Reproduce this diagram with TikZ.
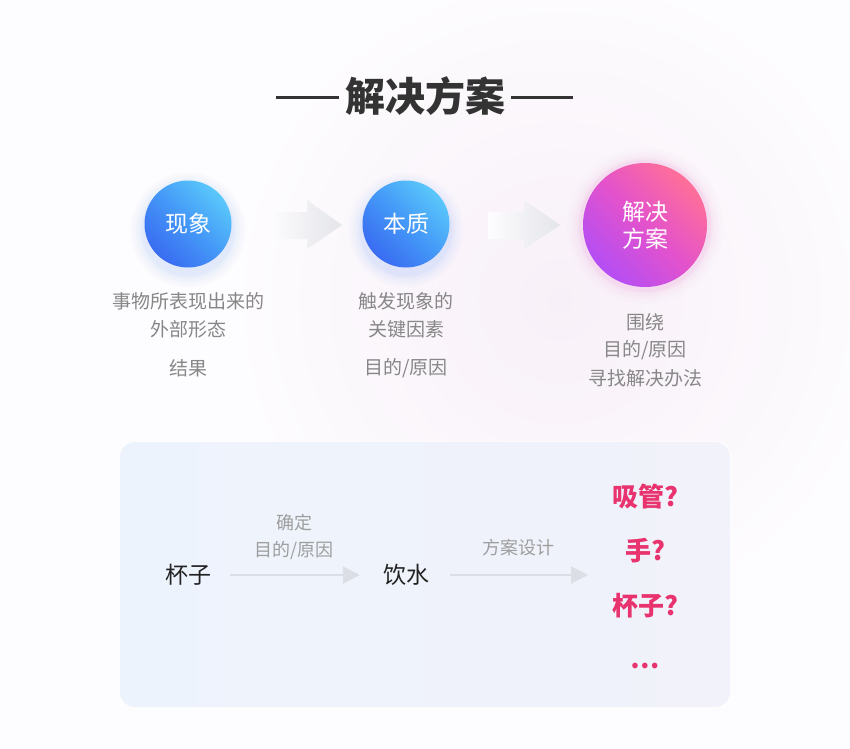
\documentclass[tikz,border=0pt]{standalone}
\usepackage{fontspec}
\setmainfont{Noto Sans CJK SC}
\usetikzlibrary{arrows.meta}
\definecolor{bgc}{HTML}{FDFCFE}
\definecolor{glowc}{HTML}{F8F0F8}
\definecolor{titlec}{HTML}{333333}
\definecolor{graytxt}{HTML}{878787}
\definecolor{lighttxt}{HTML}{9E9E9E}
\definecolor{darktxt}{HTML}{222222}
\definecolor{redtxt}{HTML}{E8336F}
\definecolor{bluelight}{HTML}{5AC8FB}
\definecolor{bluemid}{HTML}{4498F7}
\definecolor{bluedark}{HTML}{3A6CF2}
\definecolor{pinklight}{HTML}{FF6F98}
\definecolor{pinkmid}{HTML}{E352CC}
\definecolor{pinkdark}{HTML}{B44EF5}
\definecolor{bluehalo}{HTML}{8FB4FA}
\definecolor{pinkhalo}{HTML}{F4B8E4}
\definecolor{fatarrow}{HTML}{E4E5EA}
\definecolor{thinarrow}{HTML}{DCDEE5}
\definecolor{boxleft}{HTML}{EDF3FD}
\definecolor{boxright}{HTML}{F1F2FA}
\begin{document}
\begin{tikzpicture}[x=1pt,y=-1pt,
  desc/.style={text=graytxt, font=\fontsize{19pt}{19pt}\selectfont, inner sep=0pt},
  lbl/.style={text=lighttxt, font=\fontsize{18pt}{18pt}\selectfont, inner sep=0pt},
  word/.style={text=darktxt, font=\fontsize{23pt}{23pt}\selectfont, inner sep=0pt},
  answer/.style={text=redtxt, font=\fontsize{26pt}{26pt}\selectfont\bfseries, inner sep=0pt},
  bluecircle/.style={circle, minimum size=87pt, inner sep=0pt, text=white,
     font=\fontsize{23pt}{23pt}\selectfont,
     top color=bluelight, bottom color=bluedark, middle color=bluemid, shading angle=-45},
  pinkcircle/.style={circle, minimum size=124pt, inner sep=0pt, text=white,
     font=\fontsize{23pt}{27pt}\selectfont, align=center,
     top color=pinklight, bottom color=pinkdark, middle color=pinkmid, shading angle=-45},
  thin/.style={draw=thinarrow, line width=2pt,
     -{Triangle[length=17pt,width=17pt,fill=thinarrow]}},
]
\useasboundingbox (0,0) rectangle (850,748);
\fill[bgc] (0,0) rectangle (850,748);
\shade[inner color=glowc, outer color=bgc] (560,300) circle (330);

% title
\node[inner sep=0pt, text=titlec, font=\fontsize{40pt}{40pt}\selectfont\bfseries] (title) at (425,96) {解决方案};
\draw[titlec, line width=3pt] (276,97) -- (339,97);
\draw[titlec, line width=3pt] (511,97) -- (573,97);

% halos
\foreach \r/\o in {14/0.03,11/0.04,8/0.05,5/0.06,3/0.08}{
  \fill[bluehalo, opacity=\o] (188,230) circle (43.5+\r);
  \fill[bluehalo, opacity=\o] (406,230) circle (43.5+\r);
}
\foreach \r/\o in {16/0.04,12/0.05,9/0.07,6/0.12,4/0.2}{
  \fill[pinkhalo, opacity=\o] (645,226) circle (62+\r);
}

% fat arrows
\shade[left color=bgc, right color=fatarrow]
  (268,212) -- (307,212) -- (307,200) -- (342,225) -- (307,249) -- (307,239) -- (268,239) -- cycle;
\shade[left color=bgc, right color=fatarrow]
  (488,212) -- (524,212) -- (524,200) -- (560,225) -- (524,249) -- (524,239) -- (488,239) -- cycle;

% circles
\node[bluecircle] (c1) at (188,224) {现象};
\node[bluecircle] (c2) at (406,224) {本质};
\node[pinkcircle] (c3) at (645,225) {解决\\方案};

% descriptions
\node[desc] (d1a) at (188,301) {事物所表现出来的};
\node[desc] (d1b) at (188,329) {外部形态};
\node[desc] (d1c) at (188,368) {结果};
\node[desc] (d2a) at (406,301) {触发现象的};
\node[desc] (d2b) at (406,329) {关键因素};
\node[desc] (d2c) at (406,368) {目的/原因};
\node[desc] (d3a) at (645,322) {围绕};
\node[desc] (d3b) at (645,350) {目的/原因};
\node[desc] (d3c) at (645,378) {寻找解决办法};

% bottom box
\fill[white, opacity=0.5, rounded corners=16pt] (118,441) rectangle (732,710);
\shade[rounded corners=15pt, left color=boxleft, right color=boxright] (120,442) rectangle (730,707);

\node[word] (cup) at (188,575) {杯子};
\node[word] (drink) at (406,575) {饮水};
\node[lbl] (l1a) at (294,523) {确定};
\node[lbl] (l1b) at (294,551) {目的/原因};
\node[lbl] (l2) at (518,548) {方案设计};

\node[answer] (a1) at (645,497) {吸管?};
\node[answer] (a2) at (645,551) {手?};
\node[answer] (a3) at (645,606) {杯子?};
\node[answer] (a4) at (645,666) {…};
\coordinate (end2) at (588,575);

\draw[thin, shorten <=19pt, shorten >=23pt] (cup.east) -- (drink.west);
\draw[thin, shorten <=21pt] (drink.east) -- (end2);
\end{tikzpicture}
\end{document}
